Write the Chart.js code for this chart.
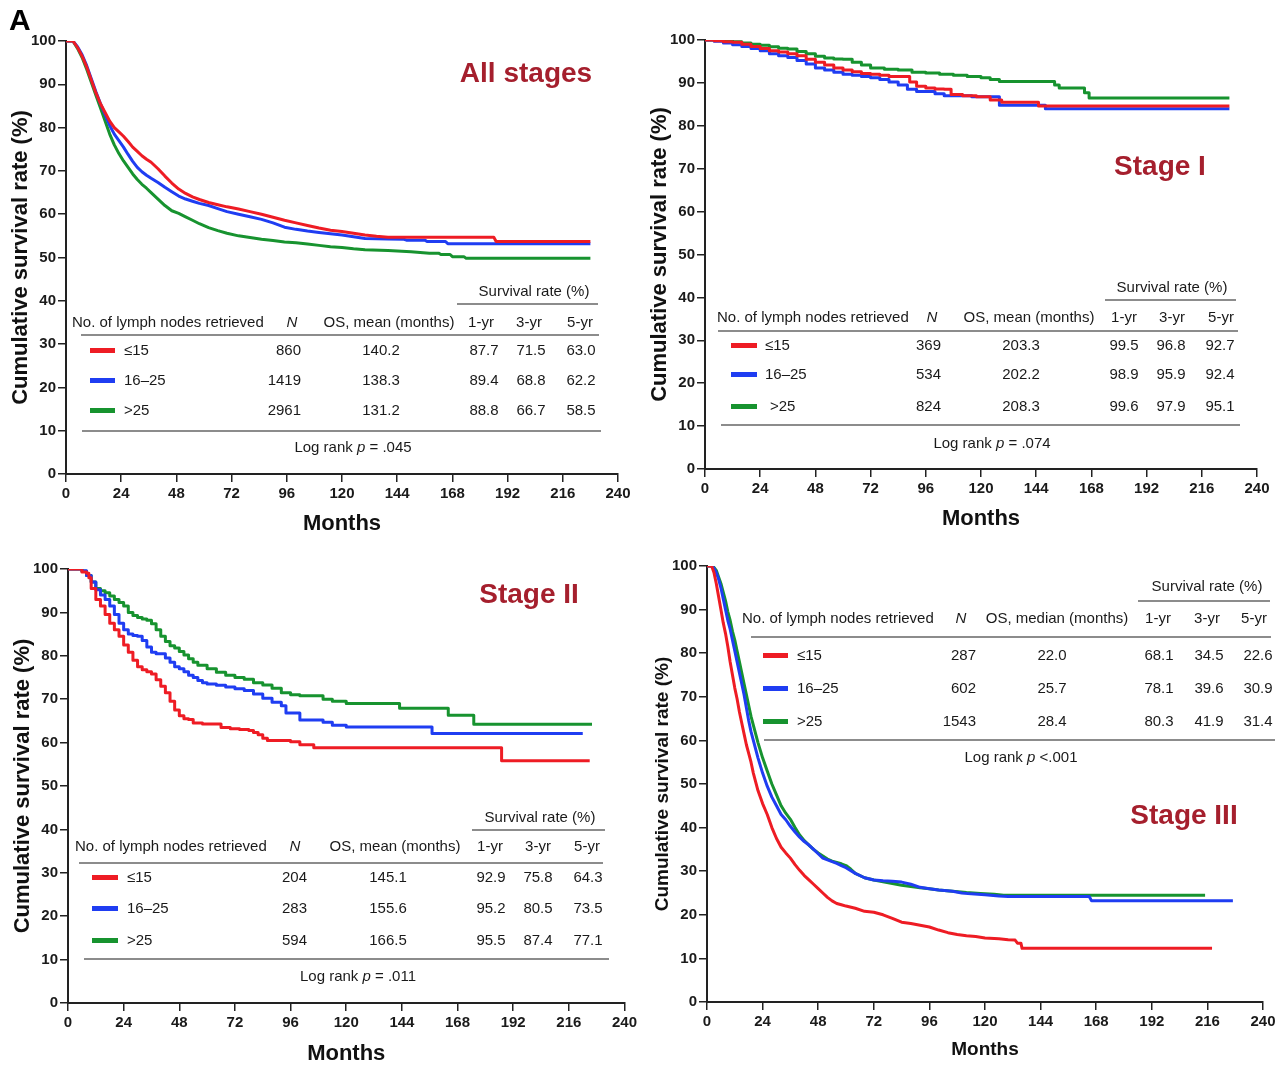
<!DOCTYPE html>
<html><head><meta charset="utf-8">
<script src="https://cdn.jsdelivr.net/npm/chart.js@4"></script>
<style>
html,body{margin:0;padding:0;background:#fff;}
body{width:1279px;height:1065px;position:relative;overflow:hidden;font-family:'Liberation Sans',Arial,sans-serif;}
canvas{position:absolute;}
.t{position:absolute;white-space:nowrap;line-height:1;color:#1a1a1a;}
.hl{position:absolute;height:0;border-top:2px solid #8c8c8c;}
.sw{position:absolute;height:5px;}
</style></head><body>
<script>
// ---------------- DATA ----------------
const groupLabels = ['≤15', '16–25', '>25'];
const xTickValues = [0, 24, 48, 72, 96, 120, 144, 168, 192, 216, 240];
const yTickValues = [0, 10, 20, 30, 40, 50, 60, 70, 80, 90, 100];

// All stages (many events: drawn as connected points, flat tails given explicitly)
const allRedMonths = [0,3,5,7,9,11,13,15,17,19,21,23,25,27,29,31,33,35,37,40,43,46,49,52,55,58,62,66,70,75,80,85,90,95,100,105,110,115,120,125,130,135,140,186,187,228];
const allRedSurv   = [100,100,98.5,96.5,94,91,88,85.5,83.5,81.5,80,79,78,76.8,75.5,74.5,73.5,72.7,72,70.5,68.8,67.2,65.8,64.8,64,63.4,62.7,62.2,61.7,61.2,60.6,60,59.3,58.6,58,57.4,56.8,56.3,56,55.6,55.2,54.9,54.7,54.7,53.7,53.7];
const allBlueMonths = [0,3,5,7,9,11,13,15,17,19,21,23,25,27,29,31,33,35,37,40,43,46,49,52,55,58,62,66,70,75,80,85,90,95,100,105,110,115,120,125,130,140,147,148,156,157,165,166,228];
const allBlueSurv   = [100,100,98.7,96.8,94.3,91.3,88.3,85.5,83,80.5,78.5,77,75.5,73.8,72.2,70.8,69.8,69,68.3,67.3,66.2,65.2,64.2,63.5,63,62.5,62,61.3,60.6,60,59.4,58.8,58,57,56.5,56.1,55.8,55.5,55.2,54.8,54.4,54.3,54.2,54,54,53.7,53.7,53.2,53.2];
const allGreenMonths = [0,3,5,7,9,11,13,15,17,19,21,23,25,27,29,31,33,35,37,40,43,46,49,52,55,58,62,66,70,75,80,85,90,95,100,105,110,115,120,125,130,140,150,158,162,163,167,168,173,174,228];
const allGreenSurv   = [100,100,98.3,96.2,93.5,90.5,87.5,84.5,81.5,78.5,76,74,72.3,70.8,69.3,68,66.9,66,65,63.5,62,60.8,60.2,59.4,58.6,57.8,56.9,56.2,55.6,55,54.6,54.2,53.9,53.6,53.4,53.1,52.8,52.5,52.3,52,51.8,51.6,51.3,51,51,50.7,50.7,50.2,50.2,49.8,49.8];

// Stage I
const s1RedMonths = [0,4,8,12,16,20,24,28,32,36,40,44,48,52,56,60,64,68,72,76,80,86,89,92,96,100,104,107,112,118,124,129,139,145,228];
const s1RedSurv   = [100,99.8,99.6,99.5,99,98.5,98,97.5,97.2,96.8,96.3,95.5,94.8,94.2,93.5,93,92.6,92.2,92,91.8,91.5,91.5,90.2,89.2,88.8,88.6,88.5,87.3,87,86.8,86,85.5,85.5,84.6,84.6];
const s1BlueMonths = [0,4,8,12,16,20,24,28,32,36,40,44,48,52,56,60,64,68,72,76,80,84,88,92,96,100,104,110,116,122,128,140,148,228];
const s1BlueSurv   = [100,99.7,99.3,98.9,98.5,98,97.5,96.8,96.3,95.9,95.2,94.4,93.5,93,92.5,92,91.8,91.5,91.2,90.8,90.2,89.5,88.5,88,88,87.5,87,87,86.8,86.8,84.8,84.8,84,84];
const s1GreenMonths = [0,4,8,12,16,20,24,28,32,36,40,44,48,52,56,60,64,68,72,78,84,90,96,102,108,114,120,124,128,136,144,152,154,160,165,167,228];
const s1GreenSurv   = [100,100,99.8,99.6,99.3,99,98.8,98.4,98.1,97.9,97.3,96.8,96.2,95.8,95.6,95.5,94.8,94.2,93.5,93.2,93,92.5,92.3,92,91.8,91.5,91.2,90.8,90.3,90.3,90.3,89.5,88.8,88.8,87.7,86.5,86.5];

// Stage II
const s2RedMonths = [0,3,6,8,9,10,12,14,16,18,20,22,24,26,28,30,32,34,36,38,40,42,44,46,48,50,52,54,58,62,66,70,74,78,80,82,84,86,90,96,98,100,104,106,186,187,225];
const s2RedSurv   = [100,100,99.3,99,98,95.5,93,91.5,89.5,87.5,86,84.5,82.5,80.8,79,77.5,76.8,76.3,75.8,74.5,73,71.5,69.5,67.5,66.2,65.5,65.3,64.5,64.3,64.3,63.5,63.2,63,62.8,62.3,61.8,61,60.5,60.5,60.2,60.2,59.5,59.5,58.8,58.8,55.8,55.8];
const s2BlueMonths = [0,3,6,8,10,12,14,16,18,20,22,24,26,28,30,32,34,36,38,40,42,44,46,48,50,52,54,56,58,60,64,68,72,76,80,84,88,92,94,98,100,106,110,114,120,156,157,222];
const s2BlueSurv   = [100,100,99.6,98.5,97,95.2,94,93,91.5,89.5,87.5,86,85,84.7,84.5,83.5,82,80.8,80.5,80.5,79.5,78.5,77.5,77,76.3,75.5,75,74.3,73.8,73.5,73.2,72.8,72.4,72,71.2,70.2,69.3,68.5,66.8,66.8,65.2,65.2,64.7,64,63.6,63.6,62.1,62.1];
const s2GreenMonths = [0,3,6,8,10,12,14,16,18,20,22,24,26,28,30,32,34,36,38,40,42,44,46,48,50,52,54,56,60,64,68,72,76,80,84,88,92,96,100,106,110,114,120,142,143,163,164,174,175,226];
const s2GreenSurv   = [100,100,99.5,98.5,97,95.5,95,94.5,93.8,93,92.3,91.5,90,89.3,88.8,88.5,88.2,87.4,86,84.5,83.3,82.3,81.8,81,80.2,79.3,78.5,77.8,77,76.2,75.5,75,74.6,73.8,73.3,72.5,71.5,71,70.8,70.8,70,69.5,69,69,67.9,67.9,66.3,66.3,64.2,64.2];

// Stage III (many events: connected points, flat tails given explicitly)
const s3RedMonths = [0,2,3,4,5,6,7,8,9,10,11,12,13,14,15,16,17,18,19,20,21,22,24,26,28,30,32,34,36,38,40,42,44,46,48,50,52,54,56,58,60,64,68,72,76,80,84,88,92,96,100,104,108,112,116,120,126,130,133,134,135.5,136,218];
const s3RedSurv   = [100,100,98.5,96,93,90,87,84.5,81.5,78,75,72,69.5,66.5,64,61.5,59,57,55,52.5,50.5,48.5,45.5,43,40,37.5,35.5,34.2,33,31.5,30.2,29,28,27,26,25,24,23.2,22.6,22.3,22,21.5,20.8,20.6,20,19.2,18.3,18,17.6,17.2,16.5,15.9,15.5,15.2,15,14.7,14.5,14.3,14.2,13.5,13.5,12.3,12.3];
const s3BlueMonths = [0,2,3,4,5,6,7,8,9,10,11,12,13,14,15,16,17,18,19,20,21,22,24,26,28,30,32,34,36,38,40,42,44,46,48,50,52,54,56,58,60,64,68,72,76,80,84,88,92,96,100,106,110,114,120,126,130,165,166,227];
const s3BlueSurv   = [100,100,99.5,98.5,97,95,92.5,90,87.5,85.5,83,80.5,78,75.5,73,70.5,67.5,64.5,62,60,58,56,52.5,49.5,47,45,43,41.8,40.3,39,37.8,36.8,36,35,34,33,32.6,32.2,31.8,31.3,30.8,29.5,28.5,28,27.8,27.7,27.5,27,26.3,26,25.7,25.4,25,24.8,24.6,24.3,24.2,24.2,23.2,23.2];
const s3GreenMonths = [0,2,3,4,5,6,7,8,9,10,11,12,13,14,15,16,17,18,19,20,21,22,24,26,28,30,32,34,36,38,40,42,44,46,48,50,52,54,56,58,60,62,64,68,72,76,80,84,88,92,96,100,106,112,118,124,128,215];
const s3GreenSurv   = [100,100,99.7,99,97.5,96,94,92,89.5,87.5,85,83,80.5,78,75.5,73,70.5,68,65.5,63.5,61.5,59.5,56,53,50,47.5,45,43.3,41.9,40,38.3,37,36,35,34.2,33.5,32.8,32.3,32,31.7,31.3,30.5,29.5,28.5,28,27.6,27.2,26.8,26.5,26.2,26,25.7,25.4,25.1,24.9,24.7,24.5,24.5];

// Tables
const allN = ['860','1419','2961'];  const allOS = ['140.2','138.3','131.2'];
const all1yr = ['87.7','89.4','88.8']; const all3yr = ['71.5','68.8','66.7']; const all5yr = ['63.0','62.2','58.5'];
const s1N = ['369','534','824'];  const s1OS = ['203.3','202.2','208.3'];
const s11yr = ['99.5','98.9','99.6']; const s13yr = ['96.8','95.9','97.9']; const s15yr = ['92.7','92.4','95.1'];
const s2N = ['204','283','594'];  const s2OS = ['145.1','155.6','166.5'];
const s21yr = ['92.9','95.2','95.5']; const s23yr = ['75.8','80.5','87.4']; const s25yr = ['64.3','73.5','77.1'];
const s3N = ['287','602','1543'];  const s3OS = ['22.0','25.7','28.4'];
const s31yr = ['68.1','78.1','80.3']; const s33yr = ['34.5','39.6','41.9']; const s35yr = ['22.6','30.9','31.4'];
const pValues = ['= .045', '= .074', '= .011', '&lt;.001'];
const panelTitles = ['All stages', 'Stage I', 'Stage II', 'Stage III'];

// ---------------- RENDER ----------------
const COLORS = ['#ee1c24', '#1f3df2', '#17932f'];
const FONT = "'Liberation Sans', Arial, sans-serif";

function txt(html, x, y, size, align, extra) {
  const d = document.createElement('div');
  d.className = 't'; d.innerHTML = html;
  d.style.fontSize = size + 'px';
  d.style.left = x + 'px';
  d.style.top = (y - size * 0.52) + 'px';
  if (align === 'center') d.style.transform = 'translateX(-50%)';
  else if (align === 'right') d.style.transform = 'translateX(-100%)';
  if (extra) Object.assign(d.style, extra);
  document.body.appendChild(d);
}
function hline(x1, x2, y) {
  const d = document.createElement('div'); d.className = 'hl';
  d.style.left = x1 + 'px'; d.style.width = (x2 - x1) + 'px'; d.style.top = (y - 1) + 'px';
  document.body.appendChild(d);
}
function swatch(x1, x2, y, color) {
  const d = document.createElement('div'); d.className = 'sw';
  d.style.left = x1 + 'px'; d.style.width = (x2 - x1) + 'px'; d.style.top = (y - 2.5) + 'px';
  d.style.background = color;
  document.body.appendChild(d);
}

function makePanel(p) {
  const c = document.createElement('canvas');
  c.width = p.w; c.height = p.h;
  c.style.left = p.x + 'px'; c.style.top = p.y + 'px';
  document.body.appendChild(c);
  const a = p.area;
  const tickFont = {family: FONT, size: 15, weight: 'bold'};
  new Chart(c, {
    type: 'line',
    data: {
      datasets: p.series.map((s, i) => ({
        data: s[0].map((m, k) => ({x: m, y: s[1][k]})),
        borderColor: COLORS[i], backgroundColor: COLORS[i],
        borderWidth: 3, pointRadius: 0, stepped: p.stepped, fill: false, tension: 0,
        borderJoinStyle: 'round'
      }))
    },
    options: {
      responsive: false, animation: false, devicePixelRatio: 1,
      layout: {padding: {left: 0, top: a.t, right: p.w - a.r, bottom: 0}},
      plugins: {legend: {display: false}, tooltip: {enabled: false}},
      scales: {
        x: {
          type: 'linear', min: 0, max: 240,
          afterBuildTicks: s => { s.ticks = xTickValues.map(v => ({value: v})); },
          afterFit: s => { s.height = p.h - a.b; },
          ticks: {font: tickFont, color: '#1a1a1a', padding: 3, maxRotation: 0, autoSkip: false},
          grid: {drawOnChartArea: false, drawTicks: true, tickLength: 8, color: '#222', lineWidth: 1.5},
          border: {display: true, color: '#222', width: 2},
          title: {display: true, text: 'Months', color: '#111',
            font: {family: FONT, size: p.ts, weight: 'bold', lineHeight: 1},
            padding: {top: 0, bottom: Math.max(0, p.h - p.xTitleY - p.ts / 2)}}
        },
        y: {
          type: 'linear', min: 0, max: 100,
          afterBuildTicks: s => { s.ticks = yTickValues.map(v => ({value: v})); },
          afterFit: s => { s.width = a.l; },
          ticks: {font: tickFont, color: '#1a1a1a', padding: 2},
          grid: {drawOnChartArea: false, drawTicks: true, tickLength: 8, color: '#222', lineWidth: 1.5},
          border: {display: true, color: '#222', width: 2},
          title: {display: true, text: 'Cumulative survival rate (%)', color: '#111',
            font: {family: FONT, size: p.ts, weight: 'bold', lineHeight: 1},
            padding: {top: p.yTitleX - p.ts / 2, bottom: 0}}
        }
      }
    }
  });
}

function makeTable(L, rows, osLabel, pText) {
  txt('Survival rate (%)', L.surv[0], L.surv[1], 15, 'center');
  hline(L.survLine[0], L.survLine[1], L.survLine[2]);
  const hy = L.head;
  txt('No. of lymph nodes retrieved', L.hc[0], hy, 15, 'left');
  txt('<i>N</i>', L.hc[1], hy, 15, 'center');
  txt(osLabel, L.hc[2], hy, 15, 'center');
  txt('1-yr', L.hc[3], hy, 15, 'center');
  txt('3-yr', L.hc[4], hy, 15, 'center');
  txt('5-yr', L.hc[5], hy, 15, 'center');
  hline(L.headLine[0], L.headLine[1], L.headLine[2]);
  L.rows.forEach((ry, i) => {
    swatch(L.sw[0], L.sw[1], ry, COLORS[i]);
    txt(groupLabels[i], L.rc[0] + (L.gOff ? L.gOff[i] : 0), ry, 15, 'left');
    txt(rows[0][i], L.rc[1], ry, 15, 'right');
    txt(rows[1][i], L.rc[2], ry, 15, 'center');
    txt(rows[2][i], L.rc[3], ry, 15, 'center');
    txt(rows[3][i], L.rc[4], ry, 15, 'center');
    txt(rows[4][i], L.rc[5], ry, 15, 'center');
  });
  hline(L.botLine[0], L.botLine[1], L.botLine[2]);
  txt('Log rank <i>p</i> ' + pText, L.lr[0], L.lr[1], 15, 'center');
}

const panels = [
  {x: 0, y: 0, w: 640, h: 540, area: {l: 66, r: 618, t: 41, b: 474}, yTitleX: 20.5, xTitleY: 524, ts: 22, stepped: false,
   series: [[allRedMonths, allRedSurv], [allBlueMonths, allBlueSurv], [allGreenMonths, allGreenSurv]]},
  {x: 640, y: 0, w: 639, h: 540, area: {l: 65, r: 617, t: 40, b: 469}, yTitleX: 19.7, xTitleY: 519, ts: 22, stepped: 'before',
   series: [[s1RedMonths, s1RedSurv], [s1BlueMonths, s1BlueSurv], [s1GreenMonths, s1GreenSurv]]},
  {x: 0, y: 540, w: 640, h: 525, area: {l: 68, r: 625, t: 29, b: 463}, yTitleX: 22.6, xTitleY: 515, ts: 22, stepped: 'before',
   series: [[s2RedMonths, s2RedSurv], [s2BlueMonths, s2BlueSurv], [s2GreenMonths, s2GreenSurv]]},
  {x: 640, y: 540, w: 639, h: 525, area: {l: 67, r: 623, t: 26, b: 462}, yTitleX: 22.5, xTitleY: 510, ts: 19, stepped: false,
   series: [[s3RedMonths, s3RedSurv], [s3BlueMonths, s3BlueSurv], [s3GreenMonths, s3GreenSurv]]}
];
panels.forEach(makePanel);

const tableLayouts = [
  {surv: [534, 291], survLine: [457, 598, 304], head: 322, hc: [72, 292, 389, 481, 529, 580], headLine: [81, 599, 335],
   rows: [350, 380, 410], sw: [90, 115], rc: [124, 301, 381, 484, 531, 581], botLine: [82, 601, 431], lr: [353, 447]},
  {surv: [1172, 287], survLine: [1105, 1236, 300], head: 317, hc: [717, 932, 1029, 1124, 1172, 1221], headLine: [718, 1238, 331],
   rows: [345, 374, 406], sw: [731, 757], rc: [765, 941, 1021, 1124, 1171, 1220], gOff: [0, 0, 5], botLine: [721, 1240, 425], lr: [992, 443]},
  {surv: [540, 817], survLine: [472, 605, 830], head: 846, hc: [75, 295, 395, 490, 538, 587], headLine: [79, 603, 863],
   rows: [877, 908, 940], sw: [92, 118], rc: [127, 307, 388, 491, 538, 588], botLine: [84, 609, 959], lr: [358, 976]},
  {surv: [1207, 586], survLine: [1138, 1270, 601], head: 618, hc: [742, 961, 1057, 1158, 1207, 1254], headLine: [751, 1271, 637],
   rows: [655, 688, 721], sw: [763, 788], rc: [797, 976, 1052, 1159, 1209, 1258], botLine: [764, 1275, 740], lr: [1021, 757]}
];
makeTable(tableLayouts[0], [allN, allOS, all1yr, all3yr, all5yr], 'OS, mean (months)', pValues[0]);
makeTable(tableLayouts[1], [s1N, s1OS, s11yr, s13yr, s15yr], 'OS, mean (months)', pValues[1]);
makeTable(tableLayouts[2], [s2N, s2OS, s21yr, s23yr, s25yr], 'OS, mean (months)', pValues[2]);
makeTable(tableLayouts[3], [s3N, s3OS, s31yr, s33yr, s35yr], 'OS, median (months)', pValues[3]);

const titlePos = [[526, 74], [1160, 167], [529, 595], [1184, 816]];
panelTitles.forEach((t, i) => txt(t, titlePos[i][0], titlePos[i][1], 28, 'center', {color: '#a51f2d', fontWeight: 'bold'}));
txt('A', 9, 21, 30, 'left', {color: '#000', fontWeight: 'bold'});
</script>
</body></html>
